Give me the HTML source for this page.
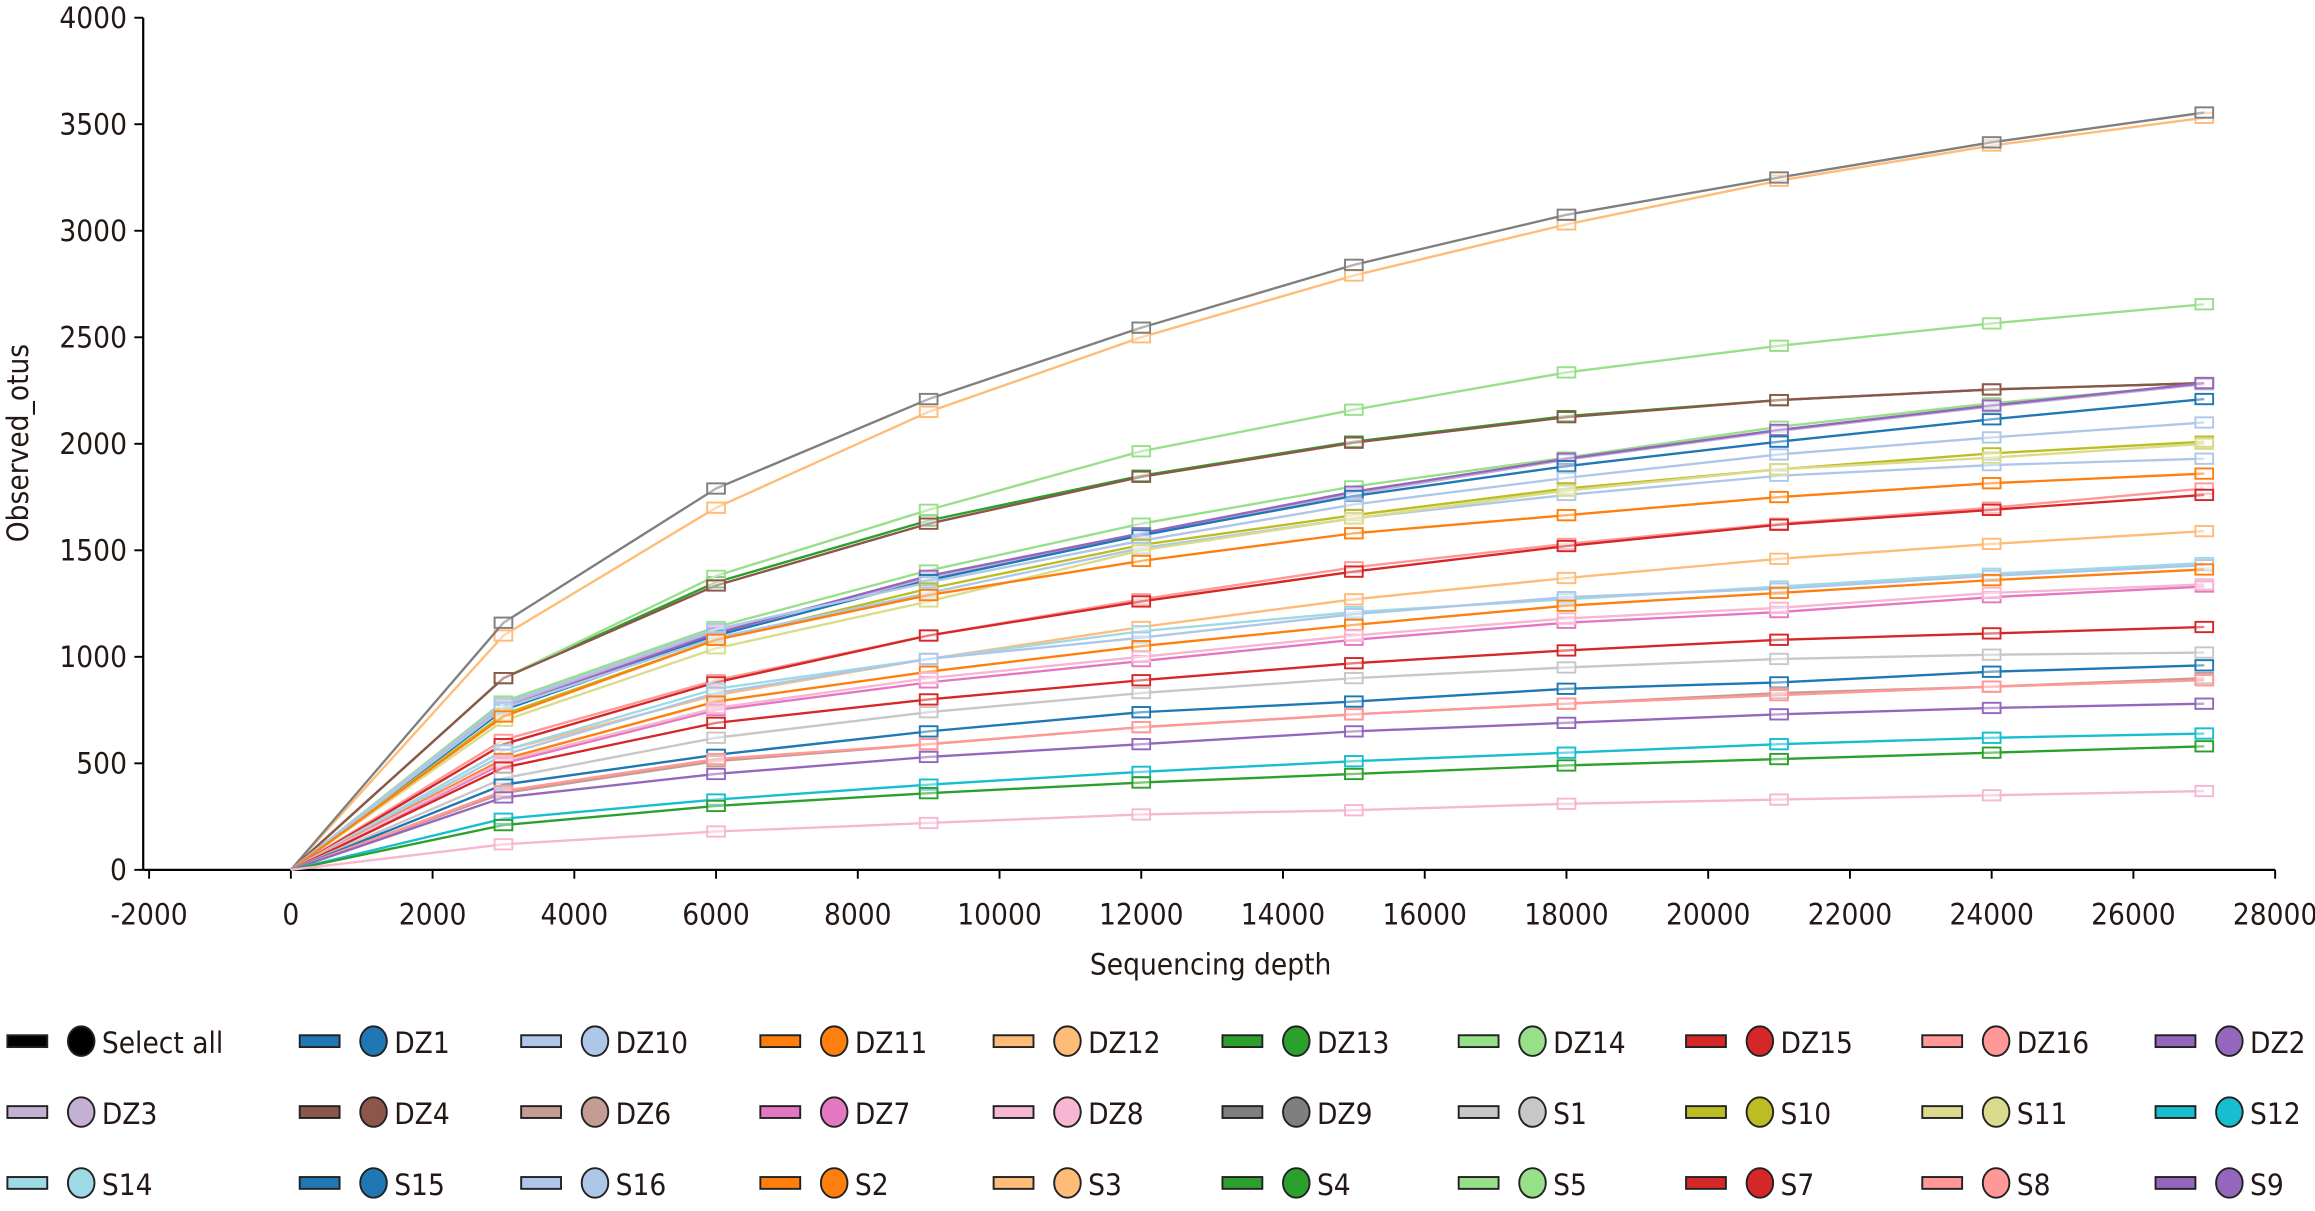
<!DOCTYPE html>
<html><head><meta charset="utf-8">
<style>
html,body{margin:0;padding:0;background:#fff;}
svg{display:block;}
text{font-family:"DejaVu Sans Condensed","Liberation Sans",sans-serif;fill:#231815;}
</style></head>
<body>
<svg id="c" width="2315" height="1211" viewBox="0 0 1568 820" preserveAspectRatio="none" xmlns="http://www.w3.org/2000/svg">
<g id="axes" stroke="#000" stroke-width="1.5" fill="none">
<line x1="97" y1="12" x2="97" y2="589"/>
<line x1="97" y1="589" x2="1541" y2="589"/>
</g>
<g id="ticks" stroke="#000" stroke-width="1.3"></g>
<g id="labels" font-size="20"></g>
<text x="820" y="660" font-size="20" text-anchor="middle">Sequencing depth</text>
<text transform="translate(19,300) rotate(-90)" font-size="20" text-anchor="middle">Observed_otus</text>
<g id="series"></g>
<g id="legend" font-size="20"></g>
</svg>
<script>
var NS="http://www.w3.org/2000/svg";
function el(p,t,a,txt){var e=document.createElementNS(NS,t);for(var k in a)e.setAttribute(k,a[k]);if(txt!==undefined)e.textContent=txt;p.appendChild(e);return e;}
var X=function(v){return 197+v*0.048;},Y=function(v){return 589-v*0.14425;};
var tk=document.getElementById('ticks'),lb=document.getElementById('labels');
for(var v=0;v<=4000;v+=500){el(tk,'line',{x1:91,x2:97,y1:Y(v),y2:Y(v)});el(lb,'text',{x:86,y:Y(v)+7,'text-anchor':'end'},v);}
for(var v=-2000;v<=28000;v+=2000){el(tk,'line',{x1:X(v),x2:X(v),y1:589,y2:595});el(lb,'text',{x:X(v),y:626,'text-anchor':'middle'},v);}
var S=[
['#ffbb78',[1100,1700,2150,2500,2790,3030,3235,3400,3530]],
['#7f7f7f',[1160,1790,2210,2545,2840,3075,3250,3415,3555]],
['#2ca02c',[900,1350,1640,1850,2010,2130,2205,2255,2285]],
['#98df8a',[900,1380,1690,1965,2160,2335,2460,2565,2655]],
['#8c564b',[900,1335,1625,1845,2005,2125,2205,2255,2285]],
['#98df8a',[790,1140,1405,1625,1800,1935,2080,2190,2280]],
['#c5b0d5',[770,1120,1370,1575,1765,1925,2060,2175,2280]],
['#9467bd',[760,1110,1380,1580,1775,1930,2065,2180,2285]],
['#1f77b4',[750,1100,1360,1570,1755,1895,2010,2115,2210]],
['#aec7e8',[780,1130,1350,1545,1715,1840,1950,2030,2100]],
['#bcbd22',[730,1080,1320,1525,1665,1790,1880,1955,2010]],
['#aec7e8',[760,1090,1300,1510,1650,1760,1850,1900,1930]],
['#dbdb8d',[700,1040,1260,1500,1650,1780,1880,1935,2000]],
['#ff7f0e',[720,1080,1290,1450,1580,1665,1750,1815,1860]],
['#ff9896',[610,890,1100,1270,1420,1530,1625,1700,1790]],
['#d62728',[590,880,1100,1260,1400,1520,1620,1690,1760]],
['#ffbb78',[560,820,990,1140,1270,1370,1460,1530,1590]],
['#9edae5',[560,850,990,1120,1210,1270,1330,1390,1440]],
['#aec7e8',[540,830,990,1090,1200,1280,1320,1380,1430]],
['#ff7f0e',[520,790,930,1050,1150,1240,1300,1360,1410]],
['#e377c2',[500,750,880,980,1080,1160,1210,1280,1330]],
['#f7b6d2',[510,760,900,1000,1100,1180,1230,1300,1340]],
['#d62728',[480,690,800,890,970,1030,1080,1110,1140]],
['#c7c7c7',[430,620,740,830,900,950,990,1010,1020]],
['#1f77b4',[400,540,650,740,790,850,880,930,960]],
['#c49c94',[360,510,590,670,730,780,830,860,900]],
['#ff9896',[370,520,590,670,730,780,820,860,890]],
['#9467bd',[340,450,530,590,650,690,730,760,780]],
['#17becf',[240,330,400,460,510,550,590,620,640]],
['#2ca02c',[210,300,360,410,450,490,520,550,580]],
['#f7b6d2',[120,180,220,260,280,310,330,350,370]]
];
var sg=document.getElementById('series');
S.forEach(function(s){var pts=[[X(0),Y(0)]];s[1].forEach(function(v,i){pts.push([X(3000*(i+1)),Y(v)]);});
el(sg,'polyline',{points:pts.map(function(p){return p[0]+','+p[1]}).join(' '),fill:'none',stroke:s[0],'stroke-width':1.6});
pts.slice(1).forEach(function(p){el(sg,'rect',{x:p[0]-6,y:p[1]-3.5,width:12,height:7,fill:'#fff','fill-opacity':0.4,stroke:s[0],'stroke-width':1.3});});});
var L=[['Select all','#000'],['DZ1','#1f77b4'],['DZ10','#aec7e8'],['DZ11','#ff7f0e'],['DZ12','#ffbb78'],['DZ13','#2ca02c'],['DZ14','#98df8a'],['DZ15','#d62728'],['DZ16','#ff9896'],['DZ2','#9467bd'],
['DZ3','#c5b0d5'],['DZ4','#8c564b'],['DZ6','#c49c94'],['DZ7','#e377c2'],['DZ8','#f7b6d2'],['DZ9','#7f7f7f'],['S1','#c7c7c7'],['S10','#bcbd22'],['S11','#dbdb8d'],['S12','#17becf'],
['S14','#9edae5'],['S15','#1f77b4'],['S16','#aec7e8'],['S2','#ff7f0e'],['S3','#ffbb78'],['S4','#2ca02c'],['S5','#98df8a'],['S7','#d62728'],['S8','#ff9896'],['S9','#9467bd']];
var cx=[5,203,353,515,673,828,988,1142,1302,1460],ry=[705,753,801];
var lg=document.getElementById('legend');
L.forEach(function(l,i){var x=cx[i%10],y=ry[Math.floor(i/10)];
el(lg,'rect',{x:x,y:y-4,width:27,height:8,fill:l[1],stroke:'#222','stroke-width':1.3});
el(lg,'ellipse',{cx:x+50,cy:y,rx:9,ry:10,fill:l[1],stroke:'#222','stroke-width':1.3});
el(lg,'text',{x:x+64,y:y+8},l[0]);});
</script>
</body></html>
